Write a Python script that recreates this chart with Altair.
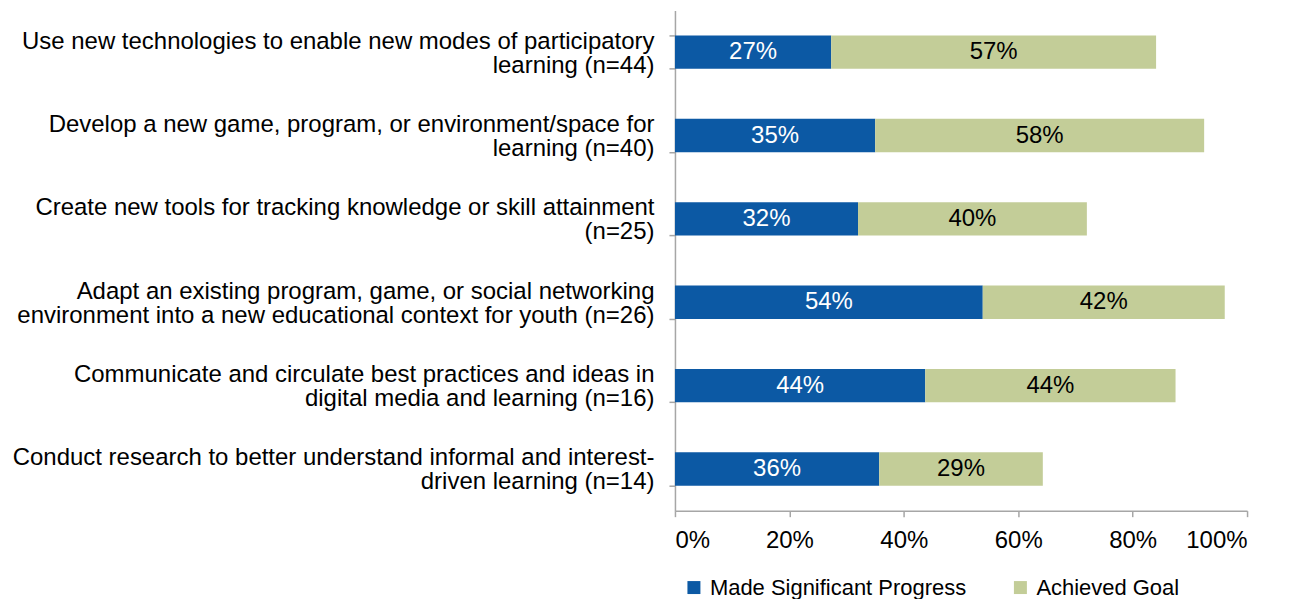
import altair as alt
import pandas as pd

# Category labels (two display lines each)
categories = [
    ["Use new technologies to enable new modes of participatory", "learning (n=44)"],
    ["Develop a new game, program, or environment/space for", "learning (n=40)"],
    ["Create new tools for tracking knowledge or skill attainment", "(n=25)"],
    ["Adapt an existing program, game, or social networking", "environment into a new educational context for youth (n=26)"],
    ["Communicate and circulate best practices and ideas in", "digital media and learning (n=16)"],
    ["Conduct research to better understand informal and interest-", "driven learning (n=14)"],
]
series = ["Made Significant Progress", "Achieved Goal"]
progress = [27.3, 35.0, 32.0, 53.8, 43.75, 35.7]
achieved = [56.8, 57.5, 40.0, 42.3, 43.75, 28.6]
x_ticks = [0, 20, 40, 60, 80, 100]
colors = ["#0C59A4", "#C3CD98"]

cat_keys = ["|".join(c) for c in categories]
rows = []
for i, k in enumerate(cat_keys):
    rows.append({"cat": k, "series": series[0], "order": 0, "value": progress[i]})
    rows.append({"cat": k, "series": series[1], "order": 1, "value": achieved[i]})
df = pd.DataFrame(rows)

FONT = "Liberation Sans"
FS = 24
GRAY = "#A6A6A6"

base = alt.Chart(df).transform_stack(
    stack="value", groupby=["cat"], as_=["v0", "v1"],
    sort=[alt.SortField("order", order="ascending")]
).transform_calculate(
    mid="(datum.v0 + datum.v1) / 2",
    lbl="round(datum.value) + '%'"
)

y_enc = alt.Y(
    "cat:N", sort=cat_keys, title=None,
    scale=alt.Scale(paddingInner=0.6, paddingOuter=0.3),
    axis=alt.Axis(
        labelExpr="split(datum.label, '|')",
        labelFont=FONT, labelFontSize=FS, labelColor="black",
        labelLimit=900, labelLineHeight=24, labelPadding=15,
        labelOffset=-11,
        tickBand="extent", tickSize=6, tickColor=GRAY,
        domainColor=GRAY, domainWidth=1.5, tickWidth=1.5,
    ),
)

bars = base.mark_bar().encode(
    y=y_enc,
    x=alt.X(
        "v0:Q", title=None,
        scale=alt.Scale(domain=[0, 100], nice=False),
        axis=alt.Axis(
            values=x_ticks, labelExpr="datum.value + '%'",
            labelFont=FONT, labelFontSize=FS, labelColor="black",
            labelPadding=12, tickSize=6, tickColor=GRAY,
            domainColor=GRAY, domainWidth=1.5, tickWidth=1.5,
            grid=False,
        ),
    ),
    x2="v1:Q",
    color=alt.Color(
        "series:N",
        scale=alt.Scale(domain=series, range=colors),
        sort=series,
        legend=alt.Legend(
            title=None, orient="none", direction="horizontal",
            legendX=8, legendY=567,
            symbolType="square", symbolSize=169, symbolStrokeWidth=0,
            labelFont=FONT, labelFontSize=22, labelColor="black",
            labelOffset=5, columnPadding=43, labelLimit=500,
        ),
    ),
    order=alt.Order("order:Q"),
)

texts = base.mark_text(font=FONT, fontSize=FS, baseline="middle", align="center").encode(
    y=alt.Y("cat:N", sort=cat_keys),
    x=alt.X("mid:Q"),
    text="lbl:N",
    color=alt.condition(
        alt.datum.series == series[0], alt.value("white"), alt.value("black")
    ),
)

chart = alt.layer(bars, texts).properties(
    width=573, height=501,
    autosize=alt.AutoSizeParams(type="none"),
    padding={"left": 668, "top": 2, "right": 35, "bottom": 88},
).configure(background="white").configure_view(stroke=None, strokeWidth=0)

chart.save("out.html", embed_options={"renderer": "svg", "actions": False})
